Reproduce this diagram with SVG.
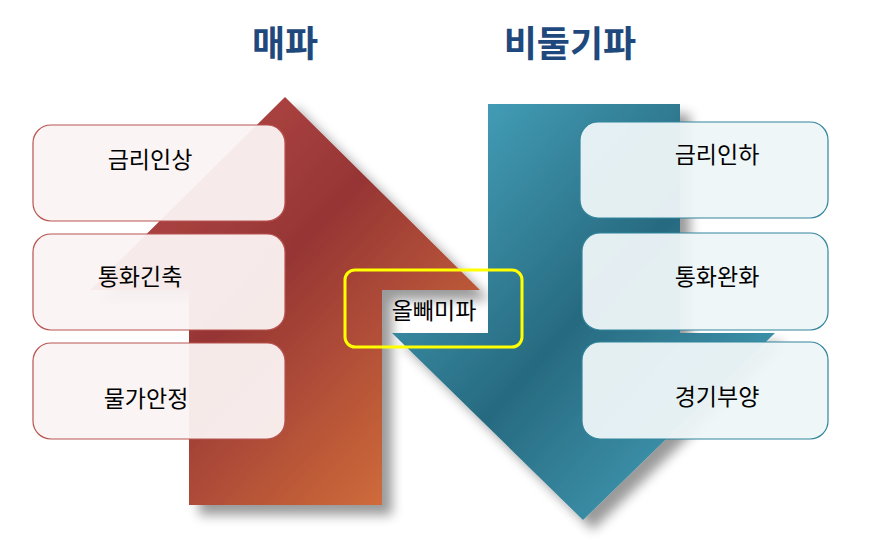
<svg xmlns="http://www.w3.org/2000/svg" width="870" height="542" viewBox="0 0 870 542">
<style>
text{font-family:"Noto Sans CJK KR","Noto Sans",sans-serif;}
.t{font-size:36px;font-weight:bold;fill:#1F497D;text-anchor:middle}
.l{font-size:23px;fill:#000;text-anchor:middle}
.bl{fill:#FBF3F3;fill-opacity:0.95;stroke:#B85450;stroke-width:1.2}
.br{fill:#EEF5F8;fill-opacity:0.95;stroke:#31859C;stroke-width:1.2}
</style>
<defs>
<linearGradient id="gr" x1="0" y1="0" x2="1" y2="1"><stop offset="0" stop-color="#C0504D"/><stop offset="0.45" stop-color="#963535"/><stop offset="1" stop-color="#E07B3C"/></linearGradient>
<linearGradient id="gb" x1="0" y1="0" x2="1" y2="1"><stop offset="0" stop-color="#4BACC6"/><stop offset="0.5" stop-color="#276A80"/><stop offset="1" stop-color="#4BACC6"/></linearGradient>
<filter id="sh" x="-20%" y="-20%" width="150%" height="150%"><feGaussianBlur in="SourceAlpha" stdDeviation="6"/><feOffset dx="10" dy="10"/><feComponentTransfer><feFuncA type="linear" slope="0.4"/></feComponentTransfer><feMerge><feMergeNode/><feMergeNode in="SourceGraphic"/></feMerge></filter>
</defs>
<text class="t" x="285" y="57">매파</text>
<text class="t" x="570" y="57">비둘기파</text>
<g id="connectors">
<path id="up" d="M285,97 L480,290 L382,290 L382,505 L189,505 L189,290 L90,290 Z" fill="url(#gr)" filter="url(#sh)"/>
<path id="down" d="M488,104 L680,104 L680,333 L775,333 L583,520 L392,333 L488,333 Z" fill="url(#gb)" filter="url(#sh)"/>
</g>
<g id="n1"><rect class="bl" x="33" y="125" width="252" height="96" rx="18"/><text class="l" x="150" y="168">금리인상</text></g>
<g id="n2"><rect class="bl" x="33" y="234" width="252" height="96" rx="18"/><text class="l" x="140" y="285">통화긴축</text></g>
<g id="n3"><rect class="bl" x="33" y="343" width="252" height="96" rx="18"/><text class="l" x="146" y="407">물가안정</text></g>
<g id="n4"><rect class="br" x="580" y="122" width="248" height="96" rx="18"/><text class="l" x="717" y="163">금리인하</text></g>
<g id="n5"><rect class="br" x="582" y="233" width="246" height="97" rx="18"/><text class="l" x="717" y="285">통화완화</text></g>
<g id="n6"><rect class="br" x="582" y="342" width="246" height="97" rx="18"/><text class="l" x="717" y="405">경기부양</text></g>
<g id="n7"><rect x="345" y="270" width="177" height="77" rx="10" fill="none" stroke="#FFFF00" stroke-width="3"/><text class="l" x="434" y="319">올빼미파</text></g>
</svg>
